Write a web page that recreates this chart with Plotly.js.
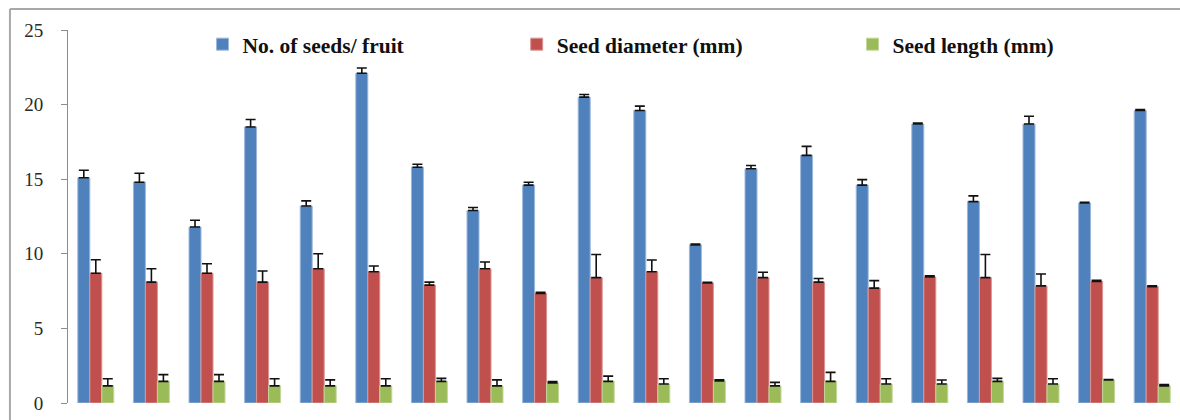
<!DOCTYPE html>
<html>
<head>
<meta charset="utf-8">
<script src="https://cdn.plot.ly/plotly-3.0.1.min.js"></script>
<style>html,body{margin:0;padding:0;background:#fff;}#chart{width:1180px;height:420px;}</style>
</head>
<body>
<div id="chart"></div>
<script>
// Genotypes (no labels visible on the reference)
var categories = ["G1","G2","G3","G4","G5","G6","G7","G8","G9","G10","G11","G12","G13","G14","G15","G16","G17","G18","G19","G20"];

var seedsPerFruit = [15.1, 14.8, 11.8, 18.5, 13.2, 22.1, 15.8, 12.9, 14.6, 20.5, 19.6, 10.6, 15.7, 16.6, 14.6, 18.7, 13.5, 18.7, 13.4, 19.6];
var seedsPerFruitErr = [0.5, 0.6, 0.45, 0.5, 0.35, 0.35, 0.2, 0.2, 0.2, 0.18, 0.3, 0.05, 0.22, 0.6, 0.37, 0.06, 0.38, 0.52, 0.05, 0.06];

var seedDiameter = [8.7, 8.1, 8.7, 8.1, 9.0, 8.8, 7.9, 9.0, 7.35, 8.4, 8.8, 8.05, 8.4, 8.1, 7.7, 8.45, 8.4, 7.85, 8.15, 7.8];
var seedDiameterErr = [0.9, 0.9, 0.63, 0.75, 1.0, 0.38, 0.2, 0.45, 0.07, 1.55, 0.78, 0.04, 0.36, 0.24, 0.5, 0.07, 1.55, 0.8, 0.07, 0.05];

var seedLength = [1.15, 1.45, 1.45, 1.15, 1.15, 1.15, 1.45, 1.15, 1.35, 1.45, 1.27, 1.48, 1.15, 1.45, 1.27, 1.27, 1.45, 1.27, 1.54, 1.15];
var seedLengthErr = [0.48, 0.45, 0.45, 0.48, 0.4, 0.48, 0.2, 0.4, 0.08, 0.35, 0.36, 0.07, 0.23, 0.6, 0.36, 0.27, 0.2, 0.36, 0.03, 0.09];

var seriesNames = ["No. of seeds/ fruit", "Seed diameter (mm)", "Seed length (mm)"];
var seriesColors = ["#4F81BD", "#C0504D", "#9BBB59"];
var edgeColors = ["#9DB8DA", "#D99694", "#C3D69B"];

function zeros(n){ var a=[]; for(var i=0;i<n;i++) a.push(0); return a; }

function mk(i, vals, errs, legendId){
  return {
    type: "bar",
    name: seriesNames[i],
    x: categories,
    y: vals,
    legend: legendId,
    marker: {color: seriesColors[i], line: {color: edgeColors[i], width: 1}},
    error_y: {type: "data", symmetric: false, array: errs, arrayminus: zeros(errs.length), color: "#111111", thickness: 1.6, width: 5},
    hoverinfo: "x+y+name"
  };
}

var data = [
  mk(0, seedsPerFruit, seedsPerFruitErr, "legend"),
  mk(1, seedDiameter, seedDiameterErr, "legend2"),
  mk(2, seedLength, seedLengthErr, "legend3")
];

var legendFont = {family: "Liberation Serif, Times New Roman, serif", size: 21.5, color: "#111111", weight: "bold"};
function legendAt(x){
  return {x: x, xanchor: "left", y: 0.962, yanchor: "middle", orientation: "h",
          bgcolor: "rgba(0,0,0,0)", borderwidth: 0, font: legendFont, itemclick: false, itemdoubleclick: false};
}

var layout = {
  width: 1180, height: 420,
  margin: {l: 68, r: 0, t: 30, b: 17, pad: 0},
  paper_bgcolor: "#ffffff", plot_bgcolor: "#ffffff",
  barmode: "group", bargap: 0.353, bargroupgap: 0,
  showlegend: true,
  legend: legendAt(0.121),
  legend2: legendAt(0.4035),
  legend3: legendAt(0.7055),
  xaxis: {type: "category", showticklabels: false, showline: false, showgrid: false, zeroline: false, ticks: "", fixedrange: true},
  yaxis: {range: [0, 25], dtick: 5, tick0: 0, showgrid: false, zeroline: false,
          showline: true, linecolor: "#8c8c8c", linewidth: 1,
          ticks: "outside", ticklen: 6, tickcolor: "#8c8c8c", tickwidth: 1,
          ticklabelstandoff: 14,
          tickfont: {family: "Liberation Serif, Times New Roman, serif", size: 19, color: "#2a2a2a"},
          fixedrange: true},
  shapes: [
    {type: "line", xref: "paper", yref: "paper", x0: -0.0522, x1: 1.01, y0: 1.0563, y1: 1.0563, line: {color: "#a8a8a8", width: 2}},
    {type: "line", xref: "paper", yref: "paper", x0: -0.0522, x1: -0.0522, y0: 1.0563, y1: -0.08, line: {color: "#a8a8a8", width: 2}}
  ]
};

Plotly.newPlot("chart", data, layout, {displayModeBar: false, staticPlot: false});
</script>
</body>
</html>
